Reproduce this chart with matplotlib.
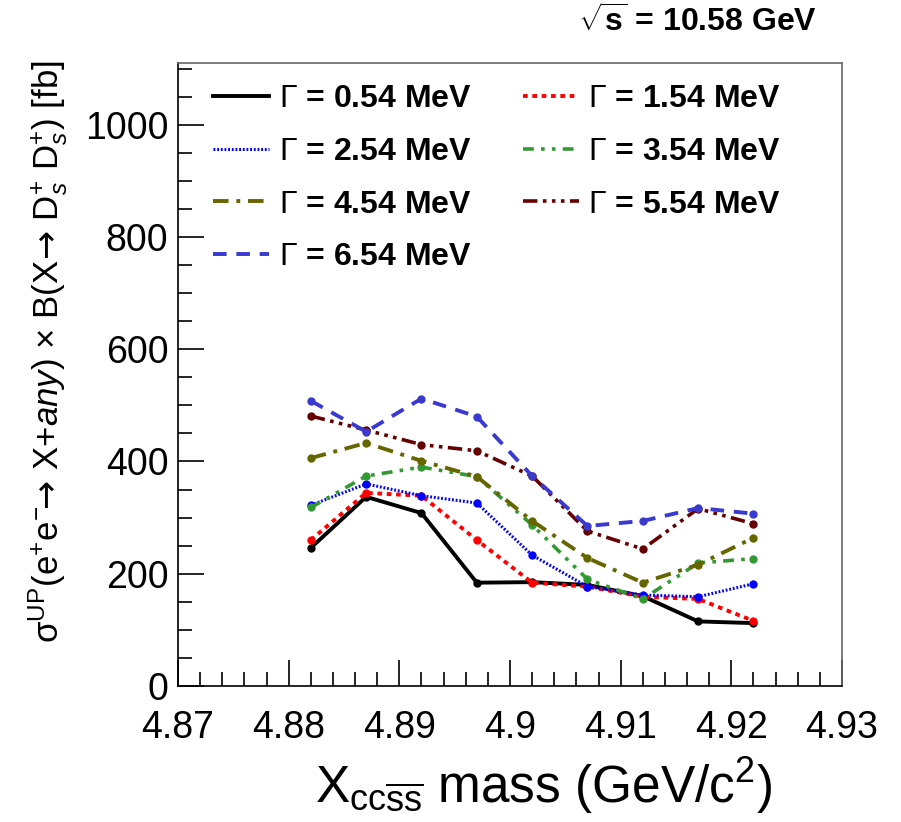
import numpy as np
import matplotlib
matplotlib.use('Agg')
import matplotlib.pyplot as plt
from matplotlib.lines import Line2D
from matplotlib.ticker import MultipleLocator

plt.rcParams['font.family'] = 'Liberation Sans'
plt.rcParams['mathtext.fontset'] = 'custom'
plt.rcParams['mathtext.rm'] = 'Liberation Sans'
plt.rcParams['mathtext.it'] = 'Liberation Sans:italic'
plt.rcParams['mathtext.bf'] = 'Liberation Sans:bold'
plt.rcParams['mathtext.sf'] = 'DejaVu Sans'

## data
mass = [4.882, 4.887, 4.892, 4.897, 4.902, 4.907, 4.912, 4.917, 4.922]
w054 = [246, 337, 308, 184, 185, 180, 160, 115, 112]
w154 = [260, 344, 339, 260, 184, 177, 159, 155, 116]
w254 = [322, 360, 339, 326, 233, 177, 162, 159, 182]
w354 = [318, 374, 390, 373, 287, 190, 155, 219, 227]
w454 = [406, 433, 401, 373, 294, 228, 184, 216, 264]
w554 = [481, 456, 430, 419, 374, 276, 244, 316, 289]
w654 = [508, 453, 512, 480, 374, 285, 294, 317, 307]
widths = ['0.54', '1.54', '2.54', '3.54', '4.54', '5.54', '6.54']
xticks = [4.87, 4.88, 4.89, 4.9, 4.91, 4.92, 4.93]
xticklabels = ['4.87', '4.88', '4.89', '4.9', '4.91', '4.92', '4.93']

series = [w054, w154, w254, w354, w454, w554, w654]
colours = ['black', '#ff0000', '#0000ff', '#339933', '#666600', '#660000', '#3a3ad0']
styles = ['-', (0, (1.2, 1.2)), (0, (0.6, 0.6)), (0, (3, 2, 1, 2, 1, 2)),
          (0, (4, 2, 1, 2)), (0, (4, 1.5, 1, 1.5, 1, 1.5, 1, 1.5)), (0, (3.5, 2.5))]
lws = [2.8, 2.8, 2.2, 2.6, 2.8, 2.6, 2.8]

fig = plt.figure(figsize=(9.01, 8.22), dpi=100)
ax = fig.add_axes([0.1976, 0.1655, 0.7369, 0.7579])

handles = []
for y, c, ls, lw, w in zip(series, colours, styles, lws, widths):
    ax.plot(mass, y, color=c, linestyle=ls, lw=lw, marker='o', markersize=5)
    # legend shows only the line, no marker
    handles.append(Line2D([], [], color=c, linestyle=ls, lw=lw,
                          label=r'$\Gamma$ = ' + w + ' MeV'))

ax.set_xlim(4.87, 4.93)
ax.set_ylim(0, 1110)
ax.xaxis.set_minor_locator(MultipleLocator(0.002))
ax.yaxis.set_major_locator(MultipleLocator(200))
ax.yaxis.set_minor_locator(MultipleLocator(50))
ax.set_xticks(xticks)
ax.set_xticklabels(xticklabels)
ax.tick_params(which='both', direction='in', top=False, right=False, labelsize=27, width=1.2)
ax.tick_params(which='major', length=19)
ax.tick_params(which='minor', length=10)
ax.tick_params(axis='x', which='major', pad=17)
ax.tick_params(axis='y', which='major', pad=7)
for s in ax.spines.values():
    s.set_linewidth(1.2)
ax.spines['top'].set_color('#666666')
ax.spines['right'].set_color('#666666')

ax.set_xlabel(r'X$_{\mathrm{cc\overline{ss}}}$ mass (GeV/c$^{2}$)', fontsize=37)
ax.xaxis.label.set_va('baseline')
ax.xaxis.set_label_coords(0.55, -0.188)
ax.set_ylabel(r'σ$^{\mathrm{UP}}$(e$^{+}$e$^{-}\!\!\mathsf{\rightarrow}\!$ X+$\it{any}$) × B(X$\!\mathsf{\rightarrow}\!$ D$_{s}^{+}$ D$_{s}^{+}$) [fb]',
              fontsize=25)
ax.yaxis.label.set_va('center')
ax.yaxis.set_label_coords(-0.196, 0.536)

order = [0, 2, 4, 6, 1, 3, 5]
ax.legend([handles[i] for i in order], [handles[i].get_label() for i in order], ncol=2,
          loc='upper left', bbox_to_anchor=(0.01, 1.012), frameon=False,
          prop={'weight': 'bold', 'size': 23}, handlelength=1.75, handletextpad=0.3,
          columnspacing=1.6, labelspacing=0.71, borderpad=0.4)

fig.text(0.907, 0.973, r'$\mathbf{\sqrt{s}}$ = 10.58 GeV', fontsize=23, fontweight='bold',
         ha='right', va='center')

fig.savefig('out.png', dpi=100)
